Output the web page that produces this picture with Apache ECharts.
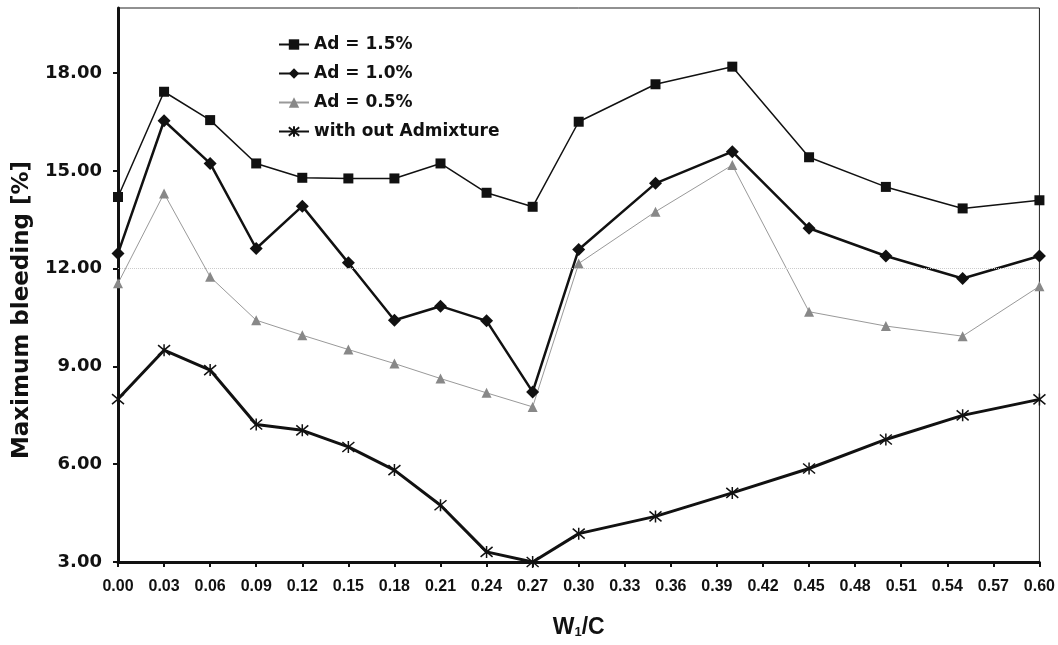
<!DOCTYPE html>
<html>
<head>
<meta charset="utf-8">
<script src="https://cdn.jsdelivr.net/npm/echarts@6/dist/echarts.min.js"></script>
<style>
  html, body { margin: 0; padding: 0; background: #fff; }
  #chart { width: 1058px; height: 645px; }
</style>
</head>
<body>
<div id="chart"></div>
<script>
// W1/C ratios
const wc = [0, 0.03, 0.06, 0.09, 0.12, 0.15, 0.18, 0.21, 0.24, 0.27, 0.30, 0.35, 0.40, 0.45, 0.50, 0.55, 0.60];
// max bleeding [%]
const ad15 = [14.2, 17.43, 16.56, 15.23, 14.79, 14.77, 14.77, 15.23, 14.33, 13.9, 16.51, 17.66, 18.2, 15.42, 14.51, 13.85, 14.1];
const ad10 = [12.47, 16.54, 15.23, 12.62, 13.92, 12.18, 10.42, 10.85, 10.4, 8.22, 12.59, 14.62, 15.59, 13.24, 12.39, 11.7, 12.39];
const ad05 = [11.55, 14.31, 11.75, 10.42, 9.96, 9.52, 9.09, 8.63, 8.19, 7.76, 12.16, 13.75, 15.18, 10.68, 10.24, 9.93, 11.46];
const noAd = [8.0, 9.5, 8.89, 7.22, 7.04, 6.53, 5.82, 4.74, 3.31, 3.0, 3.87, 4.4, 5.12, 5.87, 6.76, 7.5, 7.99];

const names = ['Ad = 1.5%', 'Ad = 1.0%', 'Ad = 0.5%', 'with out Admixture'];

const arial = 'Arial, "Liberation Sans", sans-serif';
const wide = '"DejaVu Sans", Verdana, sans-serif';
const asterisk = 'path://M0,0 L10,10 M10,0 L0,10 M5,-1 L5,11';

function pairs(ys) {
    return wc.map((x, i) => [x, ys[i]]);
}

const chart = echarts.init(document.getElementById('chart'));

let option = {
    backgroundColor: '#fff',
    animation: false,
    grid: {
        left: 118, right: 18, top: 8, bottom: 83,
        show: true, borderColor: '#222', borderWidth: 1
    },
    graphic: [{
        type: 'text',
        x: 22, y: 310,
        rotation: Math.PI / 2,
        style: {
            text: 'Maximum bleeding [%]',
            fontFamily: wide, fontWeight: 'bold', fontSize: 23,
            fill: '#111',
            align: 'center', verticalAlign: 'middle'
        }
    }],
    legend: {
        orient: 'vertical',
        left: 273, top: 31,
        itemWidth: 30, itemHeight: 13, itemGap: 12,
        data: names,
        textStyle: { fontFamily: wide, fontWeight: 'bold', fontSize: 17, color: '#111' }
    },
    xAxis: {
        type: 'value',
        min: 0, max: 0.6, interval: 0.03,
        name: '{a|W}{s|1}{a|/C}',
        nameLocation: 'middle',
        nameGap: 54,
        nameTextStyle: {
            rich: {
                a: { fontFamily: arial, fontWeight: 'bold', fontSize: 23, color: '#111' },
                s: { fontFamily: arial, fontWeight: 'bold', fontSize: 13, color: '#111', verticalAlign: 'bottom', padding: [10, 0, 0, 0] }
            }
        },
        axisLine: { lineStyle: { color: '#111', width: 3 } },
        axisTick: { show: true, length: 5, lineStyle: { color: '#111', width: 2 } },
        splitLine: { show: false },
        axisLabel: {
            margin: 17,
            fontFamily: arial, fontWeight: 'bold', fontSize: 16, color: '#111',
            formatter: v => v.toFixed(2)
        }
    },
    yAxis: {
        type: 'value',
        min: 3, max: 20, interval: 3,
        axisLine: { lineStyle: { color: '#111', width: 3 } },
        axisTick: { show: true, length: 5, lineStyle: { color: '#111', width: 2 } },
        splitLine: { show: false },
        axisLabel: {
            margin: 16, showMaxLabel: false,
            fontFamily: wide, fontWeight: 'bold', fontSize: 18, color: '#111',
            formatter: v => v.toFixed(2)
        }
    },
    series: [{
        name: names[0],
        type: 'line',
        data: pairs(ad15),
        clip: false,
        symbol: 'rect', symbolSize: 10,
        itemStyle: { color: '#111' },
        lineStyle: { color: '#111', width: 1.5 },
        z: 4,
        markLine: {
            silent: true, symbol: 'none', label: { show: false },
            lineStyle: { color: '#ccc', type: 'dotted', width: 1 },
            data: [{ yAxis: 12 }]
        }
    }, {
        name: names[1],
        type: 'line',
        data: pairs(ad10),
        clip: false,
        symbol: 'diamond', symbolSize: 13,
        itemStyle: { color: '#111' },
        lineStyle: { color: '#111', width: 2.5 },
        z: 4
    }, {
        name: names[2],
        type: 'line',
        data: pairs(ad05),
        clip: false,
        symbol: 'triangle', symbolSize: 10,
        itemStyle: { color: '#888' },
        lineStyle: { color: '#999', width: 1 },
        z: 3
    }, {
        name: names[3],
        type: 'line',
        data: pairs(noAd),
        clip: false,
        symbol: asterisk, symbolSize: 12,
        itemStyle: { color: '#111', borderColor: '#111', borderWidth: 1.5 },
        lineStyle: { color: '#111', width: 3 },
        z: 4
    }]
};

chart.setOption(option);
</script>
</body>
</html>
